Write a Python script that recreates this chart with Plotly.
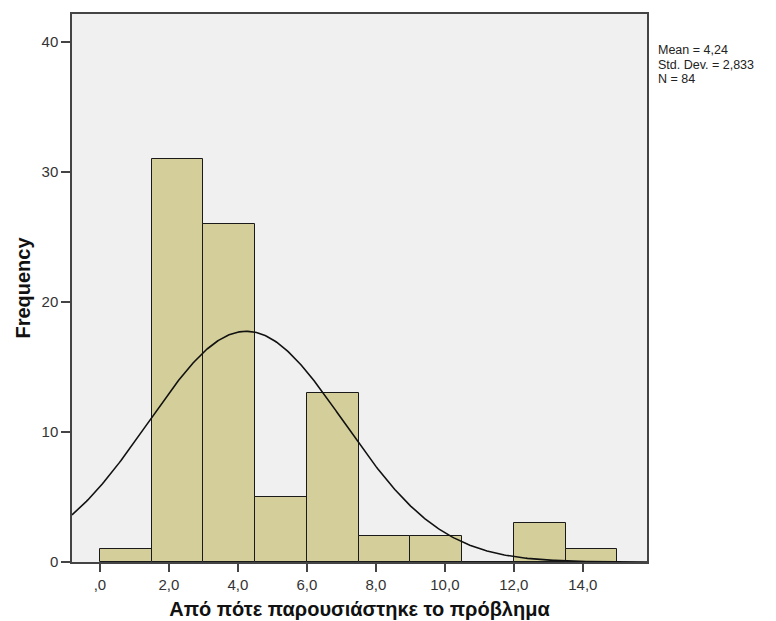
import numpy as np
import plotly.graph_objects as go

# Histogram data (bin edges start at 0, width 1.5)
bin_starts = [0.0, 1.5, 3.0, 4.5, 6.0, 7.5, 9.0, 10.5, 12.0, 13.5]
counts = [1, 31, 26, 5, 13, 2, 2, 0, 3, 1]
bin_width = 1.5

# Stats shown
mean_val = 4.24
std_val = 2.833
n_val = 84
stat_lines = ["Mean = 4,24", "Std. Dev. = 2,833", "N = 84"]

x_tickvals = [0, 2, 4, 6, 8, 10, 12, 14]
x_ticktext = [",0", "2,0", "4,0", "6,0", "8,0", "10,0", "12,0", "14,0"]
y_tickvals = [0, 10, 20, 30, 40]

x_range = [-0.81, 15.86]
y_range = [0, 42.15]

centers = [s + bin_width / 2 for s in bin_starts]

# Normal curve scaled to histogram
xc = np.linspace(x_range[0], x_range[1], 400)
yc = n_val * bin_width * np.exp(-0.5 * ((xc - mean_val) / std_val) ** 2) / (std_val * np.sqrt(2 * np.pi))

FONT = "Liberation Sans, Arial, sans-serif"

fig = go.Figure()
fig.add_trace(go.Bar(
    x=centers, y=counts, width=bin_width,
    marker=dict(color="#D4CF9A", line=dict(color="#1a1a1a", width=1)),
    hoverinfo="x+y",
))
fig.add_trace(go.Scatter(
    x=xc, y=yc, mode="lines",
    line=dict(color="#111111", width=1.6),
    hoverinfo="skip",
))

annotations = []
for i, t in enumerate(stat_lines):
    annotations.append(dict(
        x=1.0, y=1.0, xref="paper", yref="paper",
        xanchor="left", yanchor="middle", xshift=10, yshift=-(36 + 14.5 * i),
        align="left", showarrow=False, text=t, borderpad=0,
        font=dict(size=12.5, color="#222222", family=FONT),
    ))

fig.update_layout(
    width=776, height=621,
    margin=dict(l=72, r=129, t=14, b=59),
    paper_bgcolor="white",
    plot_bgcolor="#F0F0F0",
    showlegend=False,
    bargap=0,
    font=dict(family=FONT, color="#333333", size=15),
    annotations=annotations,
)

fig.update_xaxes(
    range=x_range, tickvals=x_tickvals, ticktext=x_ticktext,
    showgrid=False, zeroline=False, automargin=False,
    showline=True, linecolor="#444444", linewidth=1.5, mirror=True,
    ticks="outside", ticklen=8, tickcolor="#444444", tickwidth=1.5,
    tickfont=dict(size=15, color="#333333"),
    title=dict(text="<b>Από πότε παρουσιάστηκε το πρόβλημα</b>", font=dict(size=20, color="#111111"), standoff=10),
)
fig.update_yaxes(
    range=y_range, tickvals=y_tickvals,
    showgrid=False, zeroline=False, automargin=False,
    showline=True, linecolor="#444444", linewidth=1.5, mirror=True,
    ticks="outside", ticklen=9, tickcolor="#444444", tickwidth=1.5,
    tickfont=dict(size=15, color="#333333"),
    title=dict(text="<b>Frequency</b>", font=dict(size=20, color="#111111"), standoff=6),
)

fig.write_html("out.html")
